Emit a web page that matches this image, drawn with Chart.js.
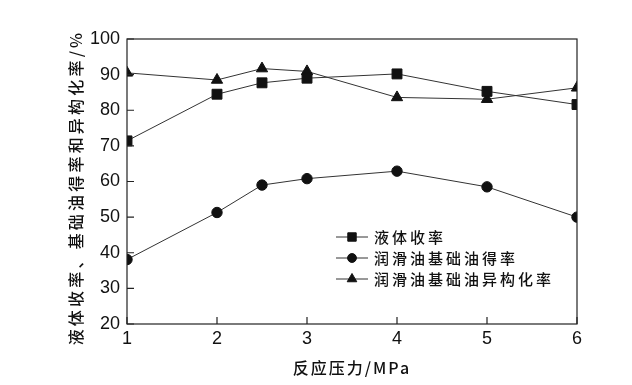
<!DOCTYPE html>
<html>
<head>
<meta charset="utf-8">
<script src="https://cdn.jsdelivr.net/npm/chart.js@4/dist/chart.umd.min.js"></script>
<style>
html,body{margin:0;padding:0;background:#fff;}
#wrap{width:632px;height:385px;}
</style>
</head>
<body>
<div id="wrap"><canvas id="c" width="632" height="385"></canvas></div>
<script>
const pressures = [1, 2, 2.5, 3, 4, 5, 6];
const liquidYield = [71.4, 84.5, 87.7, 89.0, 90.2, 85.3, 81.6];
const baseOilYield = [38.1, 51.3, 59.0, 60.8, 62.9, 58.5, 50.0];
const isomerRate = [90.5, 88.5, 91.7, 90.9, 83.6, 83.1, 86.3];
const seriesNames = ['液体收率', '润滑油基础油得率', '润滑油基础油异构化率'];
const xTicks = [1, 2, 3, 4, 5, 6];
const yTicks = [20, 30, 40, 50, 60, 70, 80, 90, 100];
const xTitle = '反应压力/MPa';
const yTitle = '液体收率、基础油得率和异构化率/%';

const FONT = '"Liberation Sans", Arial, sans-serif';
const CJK = '"Noto Sans CJK SC", "Liberation Sans", sans-serif';

function pts(vals){ return pressures.map((x,i)=>({x:x,y:vals[i]})); }
function ds(label, vals, style, r){
  return {label:label, data:pts(vals), borderColor:'#333', borderWidth:1,
    pointStyle:style, pointRadius:r, pointHoverRadius:r, pointBackgroundColor:'#111',
    pointBorderColor:'#111', pointBorderWidth:1, tension:0, fill:false};
}

const framePlugin = {
  id:'frame',
  afterDraw(chart){
    const ctx = chart.ctx, a = chart.chartArea;
    const xs = chart.scales.x, ys = chart.scales.y;
    ctx.save();
    ctx.strokeStyle = '#222'; ctx.lineWidth = 1.2;
    ctx.strokeRect(a.left, a.top, a.right-a.left, a.bottom-a.top);
    ctx.beginPath();
    yTicks.forEach(v=>{ const y = ys.getPixelForValue(v); ctx.moveTo(a.left, y); ctx.lineTo(a.left+7, y); });
    xTicks.forEach(v=>{ const x = xs.getPixelForValue(v); ctx.moveTo(x, a.bottom); ctx.lineTo(x, a.bottom-7); });
    ctx.stroke();
    // titles
    ctx.fillStyle = '#111';
    ctx.font = '500 16px ' + CJK;
    ctx.textAlign = 'center'; ctx.textBaseline = 'middle';
    try { ctx.letterSpacing = '2px'; } catch(e){}
    ctx.fillText(xTitle, (a.left+a.right)/2, 368);
    ctx.save();
    ctx.translate(76, (a.top+a.bottom)/2 + 6);
    ctx.rotate(-Math.PI/2);
    try { ctx.letterSpacing = '3.2px'; } catch(e){}
    ctx.fillText(yTitle, 0, 0);
    ctx.restore();
    // legend
    ctx.font = '500 15px ' + CJK;
    try { ctx.letterSpacing = '3px'; } catch(e){}
    ctx.textAlign = 'left';
    const rows = [237, 258, 279];
    chart.data.datasets.forEach((d,i)=>{
      const y = rows[i];
      ctx.strokeStyle = '#333'; ctx.lineWidth = 1;
      ctx.beginPath(); ctx.moveTo(336, y); ctx.lineTo(368, y); ctx.stroke();
      ctx.fillStyle = '#111'; ctx.strokeStyle = '#111';
      Chart.helpers.drawPoint(ctx, {pointStyle:d.pointStyle, radius:d.pointRadius*0.85, borderWidth:1}, 352, y);
      ctx.fillStyle = '#111';
      ctx.fillText(d.label, 374, y);
    });
    ctx.restore();
  }
};

new Chart(document.getElementById('c'), {
  type:'line',
  data:{ datasets:[
    ds(seriesNames[0], liquidYield, 'rect', 7),
    ds(seriesNames[1], baseOilYield, 'circle', 5.2),
    ds(seriesNames[2], isomerRate, 'triangle', 6.5)
  ]},
  options:{
    responsive:false, animation:false, devicePixelRatio:1,
    layout:{padding:{top:39, right:55, left:0, bottom:0}},
    plugins:{legend:{display:false}, tooltip:{enabled:false}},
    scales:{
      x:{type:'linear', min:1, max:6,
        grid:{display:false, drawTicks:false}, border:{display:false},
        afterBuildTicks(s){ s.ticks = xTicks.map(v=>({value:v})); },
        afterFit(s){ s.height = 61; },
        ticks:{color:'#111', font:{family:FONT, size:18}, padding:4, maxRotation:0}
      },
      y:{min:20, max:100,
        grid:{display:false, drawTicks:false}, border:{display:false},
        afterBuildTicks(s){ s.ticks = yTicks.map(v=>({value:v})); },
        afterFit(s){ s.width = 127; },
        ticks:{color:'#111', font:{family:FONT, size:18}, padding:7}
      }
    }
  },
  plugins:[framePlugin]
});
</script>
</body>
</html>
